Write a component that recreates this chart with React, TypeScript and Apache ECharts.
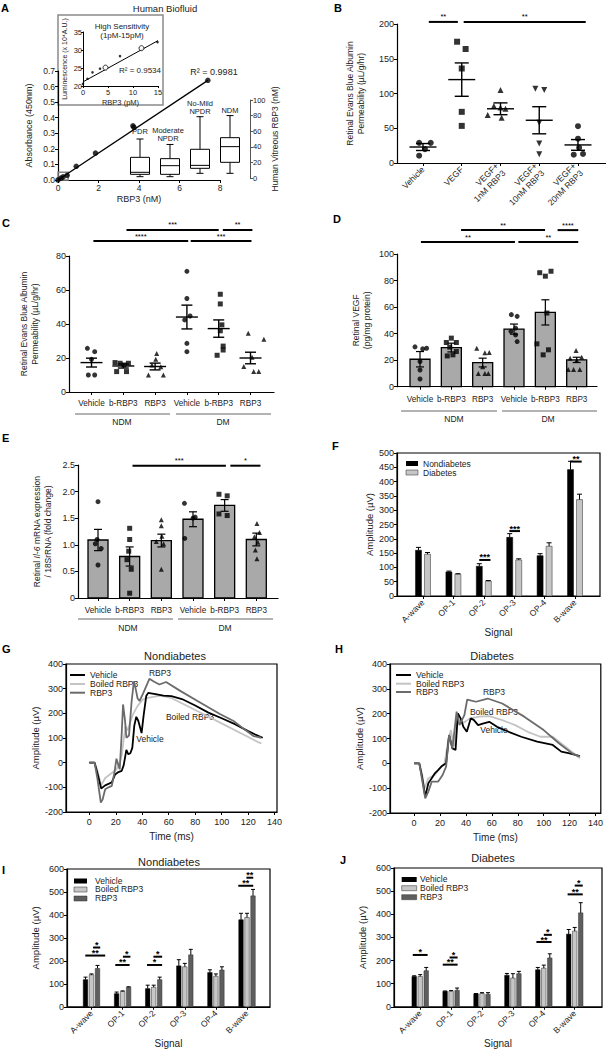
import React, { useEffect, useRef } from "react";
import * as echarts from "echarts";

const FONT = "'Liberation Sans', Arial, Helvetica, sans-serif";

// ---------------- Panel A ----------------
const stdConcNM = [0, 0.15, 0.25, 0.45, 0.9, 1.85, 3.7, 3.75, 7.4];
const stdAbs450 = [0, 0.012, 0.02, 0.03, 0.088, 0.173, 0.348, 0.338, 0.64];
const stdFitX = [0, 7.4];
const stdFitY = [0, 0.64];
const insetRegion = [0, 0, 0.5, 0.05];
const insetConcPM = [0, 0.9, 1.9, 3.4, 4.5, 7.4, 11.7, 14.9];
const insetLum = [20.6, 22.0, 23.8, 24.8, 25.1, 28.3, 30.5, 32.2];
const insetOpen = [0, 0, 0, 0, 1, 0, 1, 0];
const insetFitX = [0.2, 15];
const insetFitY = [21.3, 32.6];
const boxGroups = ["PDR", "Moderate NPDR", "No-Mild NPDR", "NDM"];
const boxStats = [
  [1.7, 4.7, 7.3, 26.5, 50],
  [1.7, 4.7, 15.8, 24.8, 43],
  [6, 12.4, 16.2, 36.8, 78.6],
  [6, 20.1, 40.2, 51.7, 80],
];

// ---------------- Panel B ----------------
const bGroups = ["Vehicle", "VEGF", "VEGF+\n1nM RBP3", "VEGF+\n10nM RBP3", "VEGF+\n20nM RBP3"];
const bPoints = [
  [29, 29, 20, 10.5],
  [174.5, 164, 136, 73.6, 53.4],
  [105, 82, 80, 78, 69, 65],
  [107, 105, 58, 28, 12.5],
  [53, 35, 22, 12, 13],
];
const bJitter = [
  [-0.1, 0.2, 0.05, -0.1],
  [-0.12, 0.1, 0, 0, 0],
  [0, -0.17, 0, 0.13, -0.33, 0.03],
  [-0.1, 0.13, 0, 0, 0],
  [0, 0, 0.03, -0.11, 0.13],
];
const bMean = [23, 120, 78, 61.5, 26];
const bSem = [5, 24, 8.5, 19.5, 7.7];
const bSymbols = ["circle", "rect", "triangle", "triangle", "circle"];
const bRotate = [0, 0, 0, 180, 0];
const bSigX1 = [0.15, 1.05];
const bSigX2 = [0.9, 4.2];
const bSigY = [203, 203];
const bSigLab = ["**", "**"];

// ---------------- Panels C, D, E ----------------
const cdeCats = ["Vehicle", "b-RBP3", "RBP3", "Vehicle", "b-RBP3", "RBP3"];
const cdeSymbols = ["circle", "rect", "triangle", "circle", "rect", "triangle"];

const cPoints = [
  [25.7, 23.7, 19.2, 10, 10],
  [17.3, 16.9, 15.9, 16.9, 12, 12],
  [22.7, 19.2, 15.9, 14.9, 10, 10],
  [71, 55, 44.7, 42.4, 28.6, 23.7],
  [57.5, 51.8, 39.5, 36, 27, 24.7, 21.6],
  [34.5, 31, 20.4, 15, 12, 12],
];
const cJitter = [
  [-0.13, 0.1, 0, -0.1, 0.1],
  [-0.26, -0.1, 0.02, 0.16, -0.21, 0.1],
  [0.05, 0.02, -0.1, 0.18, -0.21, 0.26],
  [0, 0, 0.1, -0.07, 0, 0],
  [0.05, 0.05, 0.1, 0.05, 0.14, 0.14, -0.05],
  [-0.07, 0.42, 0.05, -0.21, 0.1, 0.26],
];
const cMean = [17.3, 15.3, 15, 44.1, 37.3, 20];
const cSem = [2.6, 1.2, 2, 7, 5.1, 3.4];
const cSigX1 = [1.1, 4.13, 0.06, 3.12];
const cSigX2 = [4.0, 5.06, 3.04, 5.03];
const cSigY = [95.3, 95.3, 88.8, 88.8];
const cSigLab = ["***", "**", "****", "***"];

const dPoints = [
  [30, 28.5, 29, 19, 12.6, 5.8],
  [36.6, 33.3, 33.3, 29.8, 26.5, 23.2, 24],
  [29, 25.5, 25.8, 15, 10, 10, 10],
  [54.3, 53, 44.2, 41.7, 39, 34],
  [87, 85.9, 83.3, 55.5, 32.3, 27.8, 24],
  [27.3, 22.2, 21.5, 20, 13, 13, 13],
];
const dJitter = [
  [-0.16, 0.085, 0.21, 0, 0, 0],
  [0, -0.16, 0.16, -0.05, 0.16, -0.13, 0.05],
  [-0.19, 0.07, 0.21, 0, -0.14, 0.07, 0.18],
  [-0.085, 0.1, 0.05, -0.1, 0.05, 0.1],
  [0.18, -0.18, 0, 0.05, -0.27, 0.1, -0.07],
  [-0.02, 0.16, -0.21, 0, -0.27, -0.1, 0.1],
];
const dMean = [20.7, 29.5, 18.2, 43.4, 56, 20.2];
const dSem = [5.8, 3.3, 3.3, 3.8, 9.5, 2];
const dSigX1 = [1.31, 4.39, 0.03, 3.14];
const dSigX2 = [3.99, 5.05, 3.03, 5.05];
const dSigY = [118, 118, 109, 109];
const dSigLab = ["**", "****", "**", "**"];

const ePoints = [
  [1.81, 1.1, 1.02, 0.93, 0.62],
  [1.31, 1.1, 0.88, 0.72, 0.54, 0.09],
  [1.47, 1.36, 1.16, 1.06, 1.02, 0.54],
  [1.78, 1.52, 1.5, 1.12],
  [1.95, 1.92, 1.58, 1.55],
  [1.4, 1.23, 1.15, 1.05, 0.9, 0.74],
];
const eJitter = [
  [0, -0.03, -0.085, 0.1, 0],
  [0, 0, -0.03, -0.085, 0.05, 0],
  [0, 0, 0.02, -0.16, 0.07, 0],
  [-0.27, 0.07, 0, -0.26],
  [-0.18, 0.08, -0.18, 0.08],
  [0.02, 0.1, -0.06, 0.05, -0.03, 0.02],
];
const eMean = [1.09, 0.78, 1.08, 1.48, 1.74, 1.1];
const eSem = [0.2, 0.18, 0.12, 0.14, 0.11, 0.12];
const eSigX1 = [1.09, 4.18];
const eSigX2 = [4.04, 5.13];
const eSigY = [2.487, 2.487];
const eSigLab = ["***", "*"];

// ---------------- Panel F ----------------
const ergCats = ["A-wave", "OP-1", "OP-2", "OP-3", "OP-4", "B-wave"];
const fNondiab = [160, 84, 104, 205, 141, 442];
const fNondiabErr = [10, 3, 9, 13, 7, 29];
const fDiab = [146, 76, 52, 126, 174, 337];
const fDiabErr = [6, 2, 2, 4, 12, 19];
const fSigX1 = [1.85, 2.84, 4.84];
const fSigX2 = [2.22, 3.19, 5.22];
const fSigY = [126, 227, 470];
const fSigLab = ["***", "***", "**"];

// ---------------- Panels G, H (waveforms) ----------------
const gVehicle = [[0,0],[4,0],[6,-40],[9,-105],[12,-92],[17,-80],[19.5,-48],[22,-38],[24.5,-33],[26,-10],[28,52],[29.5,34],[31,38],[32.5,60],[34,150],[35.5,186],[37,170],[39.5,120],[41,190],[43,270],[44.5,283],[50,278],[56,272],[62,270],[70,258],[80,232],[90,203],[100,180],[110,156],[120,128],[125,115],[131,101]];
const gBoiled = [[0,0],[4,0],[6,-30],[9,-92],[12,-62],[17,-42],[20.5,-28],[23,0],[24.5,30],[26,95],[27.5,148],[29,130],[31,165],[33,196],[36.5,230],[40.5,256],[44,263],[54,272],[61.5,263],[74,230],[89,189],[104,148],[116,115],[128,82],[130,78]];
const gRBP3 = [[0,0],[4,0],[6,-60],[8.7,-162],[10,-150],[12,-108],[14.5,-100],[17,-94],[19,-40],[20.5,16],[22,-10],[23,-27],[24.5,120],[25.5,236],[27,170],[28,101],[30,110],[32,250],[33.7,330],[35,300],[36.5,260],[38,250],[41,285],[45.4,340],[49,328],[53,317],[58,327],[69,290],[84,243],[99,196],[109,169],[119,128],[124,108],[130,101]];
const hVehicle = [[0,0],[4,0],[6,-50],[8.6,-134],[11,-80],[13.6,-60],[16,-40],[18.5,-27],[21,-13],[24.7,0],[27,114],[29.6,60],[32,54],[33.8,201],[36,180],[38,147],[40.7,127],[43.7,181],[46,175],[49.4,154],[53,160],[58,167],[64,147],[73,127],[82.7,107],[95,87],[107,74],[113.6,47],[120,40],[128,29]];
const hBoiled = [[0,0],[4,0],[6,-40],[8,-100],[11,-60],[16,-47],[21,-13],[23.5,0],[26,80],[28.4,134],[30,90],[31,70],[33,194],[35,175],[37,161],[40,170],[43,181],[50.6,188],[58,190],[68,174],[78,154],[87.6,127],[97.5,107],[107,107],[113.6,80],[120,54],[128,20]];
const hRBP3 = [[0,0],[4,0],[6,-60],[8.6,-141],[11,-114],[13.6,-74],[18.5,-74],[22,-47],[24.7,-13],[27,114],[29.6,60],[32.8,208],[35,154],[38.8,194],[41,257],[47.7,248],[56.8,261],[68,241],[85,188],[100,134],[112,80],[122,40],[128,27]];
const timeTicks = [0, 20, 40, 60, 80, 100, 120, 140];

// ---------------- Panels I, J ----------------
const iVehicle = [118, 57, 79, 178, 149, 379];
const iVehicleErr = [11, 7, 15, 27, 12, 28];
const iBoiled = [139, 67, 85, 174, 133, 389];
const iBoiledErr = [4, 2, 9, 15, 10, 18];
const iRBP3 = [167, 85, 118, 226, 160, 483];
const iRBP3Err = [13, 2, 11, 24, 14, 28];
const iSigX1 = [-0.2, 0.05, 0.765, 1.01, 1.785, 1.99, 4.72, 4.98];
const iSigX2 = [0.44, 0.28, 1.225, 1.25, 2.27, 2.27, 5.2, 5.2];
const iSigY = [223, 258, 182, 218, 182, 218, 527, 562];
const iSigLab = ["**", "*", "**", "*", "*", "*", "**", "**"];

const jVehicle = [131, 67, 56, 136, 160, 314];
const jVehicleErr = [3, 1, 1, 8, 10, 20];
const jBoiled = [131, 67, 57, 124, 167, 327];
const jBoiledErr = [8, 3, 4, 19, 13, 16];
const jRBP3 = [156, 71, 54, 143, 211, 406];
const jRBP3Err = [14, 10, 7, 10, 18, 44];
const jSigX1 = [-0.24, 0.73, 0.95, 3.76, 4.0, 4.77, 5.0];
const jSigX2 = [0.24, 1.21, 1.21, 4.25, 4.26, 5.26, 5.26];
const jSigY = [224, 182, 213, 280, 311, 486, 524];
const jSigLab = ["*", "**", "*", "**", "*", "**", "*"];

// ---------------- helpers ----------------
const idx = (n: number) => Array.from({ length: n }, (_, i) => i);

function vAxis(gi: number, min: number, max: number, extra: any = {}) {
  const { label = {}, tick = {}, line = {}, nameStyle = {}, ...rest } = extra;
  return {
    gridIndex: gi,
    type: "value",
    min,
    max,
    axisLine: { show: true, onZero: false, lineStyle: { color: "#000", width: 1.2 }, ...line },
    axisTick: { show: true, length: 3, lineStyle: { color: "#000", width: 1 }, ...tick },
    axisLabel: { fontSize: 9, fontFamily: FONT, color: "#222", margin: 3, ...label },
    splitLine: { show: false },
    nameLocation: "middle",
    nameTextStyle: { fontSize: 8.5, fontFamily: FONT, color: "#222", lineHeight: 11, ...nameStyle },
    ...rest,
  };
}

function catXAxis(gi: number, min: number, max: number, names: string[], extra: any = {}) {
  const n = names.length;
  const { label = {}, ...rest } = extra;
  return vAxis(gi, min, max, {
    tick: { customValues: idx(n) },
    label: {
      customValues: idx(n),
      formatter: (v: number) => names[Math.round(v)],
      ...label,
    },
    ...rest,
  });
}

function dots(gi: number, center: number, vals: number[], jit: number[], symbol: string, size: number, rotate = 0) {
  return {
    type: "scatter",
    xAxisIndex: gi,
    yAxisIndex: gi,
    symbol,
    symbolSize: size,
    symbolRotate: rotate,
    z: 5,
    silent: true,
    itemStyle: { color: "#000" },
    data: vals.map((v, i) => [center + jit[i], v]),
  };
}

function meanSem(gi: number, means: number[], sems: number[], meanW: number, capW: number) {
  return {
    type: "custom",
    xAxisIndex: gi,
    yAxisIndex: gi,
    z: 6,
    silent: true,
    data: means.map((m, i) => [i, m, sems[i]]),
    renderItem: (_p: any, api: any) => {
      const x = api.value(0), m = api.value(1), s = api.value(2);
      const c = api.coord([x, m]), t = api.coord([x, m + s]), b = api.coord([x, m - s]);
      const st = { stroke: "#000", lineWidth: 1.4 };
      const L = (x1: number, y1: number, x2: number, y2: number) => ({ type: "line", shape: { x1, y1, x2, y2 }, style: st });
      return {
        type: "group",
        children: [
          L(c[0] - meanW / 2, c[1], c[0] + meanW / 2, c[1]),
          L(t[0], t[1], b[0], b[1]),
          L(t[0] - capW / 2, t[1], t[0] + capW / 2, t[1]),
          L(b[0] - capW / 2, b[1], b[0] + capW / 2, b[1]),
        ],
      };
    },
  };
}

function bars(gi: number, vals: number[], errs: number[], o: any) {
  const { offset = 0, width, fill, stroke = "#000", strokeW = 1, both = false, capW = 5, errW = 1 } = o;
  return {
    type: "custom",
    xAxisIndex: gi,
    yAxisIndex: gi,
    z: o.z ?? 3,
    silent: true,
    data: vals.map((v, i) => [i, v, errs[i]]),
    renderItem: (_p: any, api: any) => {
      const x = api.value(0), v = api.value(1), e = api.value(2);
      const b = api.coord([x, 0]), t = api.coord([x, v]), et = api.coord([x, v + e]), eb = api.coord([x, v - e]);
      const cx = b[0] + offset;
      const es = { stroke: "#000", lineWidth: errW };
      const children: any[] = [
        {
          type: "rect",
          shape: { x: cx - width / 2, y: t[1], width, height: b[1] - t[1] },
          style: { fill, stroke, lineWidth: strokeW },
        },
        { type: "line", shape: { x1: cx, y1: both ? eb[1] : t[1], x2: cx, y2: et[1] }, style: es },
        { type: "line", shape: { x1: cx - capW / 2, y1: et[1], x2: cx + capW / 2, y2: et[1] }, style: es },
      ];
      if (both) {
        children.push({ type: "line", shape: { x1: cx - capW / 2, y1: eb[1], x2: cx + capW / 2, y2: eb[1] }, style: es });
      }
      return { type: "group", children };
    },
  };
}

function sig(gi: number, x1s: number[], x2s: number[], ys: number[], labels: string[], o: any) {
  const { lineW = 2, fontSize = 7, gap = 1, bold = false } = o;
  return {
    type: "custom",
    xAxisIndex: gi,
    yAxisIndex: gi,
    z: 7,
    clip: false,
    silent: true,
    data: x1s.map((x1, i) => [x1, ys[i], x2s[i], i]),
    renderItem: (_p: any, api: any) => {
      const y = api.value(1);
      const a = api.coord([api.value(0), y]);
      const b = api.coord([api.value(2), y]);
      const k = api.value(3);
      return {
        type: "group",
        children: [
          { type: "line", shape: { x1: a[0], y1: a[1], x2: b[0], y2: a[1] }, style: { stroke: "#000", lineWidth: lineW } },
          {
            type: "text",
            x: (a[0] + b[0]) / 2,
            y: a[1] - gap,
            style: {
              text: labels[k],
              fontSize,
              fontFamily: FONT,
              fontWeight: bold ? "bold" : "normal",
              fill: "#000",
              align: "center",
              verticalAlign: "bottom",
            },
          },
        ],
      };
    },
  };
}

function boxes(gi: number, stats: number[][], boxW: number, capW: number) {
  return {
    type: "custom",
    xAxisIndex: gi,
    yAxisIndex: gi,
    z: 4,
    silent: true,
    data: stats.map((s, i) => [i, ...s]),
    renderItem: (_p: any, api: any) => {
      const i = api.value(0);
      const p = [1, 2, 3, 4, 5].map((k) => api.coord([i, api.value(k)]));
      const cx = p[0][0];
      const st = { stroke: "#000", lineWidth: 1 };
      const L = (x1: number, y1: number, x2: number, y2: number) => ({ type: "line", shape: { x1, y1, x2, y2 }, style: st });
      return {
        type: "group",
        children: [
          L(cx, p[0][1], cx, p[1][1]),
          L(cx, p[3][1], cx, p[4][1]),
          L(cx - capW / 2, p[0][1], cx + capW / 2, p[0][1]),
          L(cx - capW / 2, p[4][1], cx + capW / 2, p[4][1]),
          {
            type: "rect",
            shape: { x: cx - boxW / 2, y: p[3][1], width: boxW, height: p[1][1] - p[3][1] },
            style: { fill: "#fff", stroke: "#000", lineWidth: 1 },
          },
          L(cx - boxW / 2, p[2][1], cx + boxW / 2, p[2][1]),
        ],
      };
    },
  };
}

function wave(gi: number, data: number[][], color: string, z: number) {
  return {
    type: "line",
    xAxisIndex: gi,
    yAxisIndex: gi,
    data,
    showSymbol: false,
    symbol: "none",
    silent: true,
    z,
    lineStyle: { color, width: 1.8 },
  };
}

const T = (x: number, y: number, text: string, o: any = {}) => ({
  type: "text",
  x,
  y,
  silent: true,
  style: { text, fill: "#222", fontFamily: FONT, fontSize: 8.5, align: "center", verticalAlign: "middle", ...o },
});
const Ln = (x1: number, y1: number, x2: number, y2: number, stroke = "#000", lineWidth = 1) => ({
  type: "line",
  silent: true,
  shape: { x1, y1, x2, y2 },
  style: { stroke, lineWidth },
});
const Rc = (x: number, y: number, w: number, h: number, fill: string, stroke = "none", lw = 0) => ({
  type: "rect",
  silent: true,
  shape: { x, y, width: w, height: h },
  style: { fill, stroke, lineWidth: lw },
});
const Letter = (x: number, y: number, s: string) =>
  T(x, y, s, { fontWeight: "bold", fontSize: 11, fill: "#000", align: "left", verticalAlign: "top" });

const LIGHT = "#c6c6c6";
const DARK = "#5e5e5e";
const BARGRAY = "#a9a9a9";
const WLIGHT = "#c4c4c4";
const WDARK = "#6b6b6b";

function buildOption() {
  const frame = { show: true, borderColor: "#000", borderWidth: 1.2 };
  const grids = [
    { left: 58, top: 71, width: 162, height: 109 }, // 0 A main
    { left: 83, top: 32, width: 75, height: 54 }, // 1 A inset
    { left: 125, top: 100, width: 120, height: 78 }, // 2 A boxes
    { left: 397, top: 24, width: 209, height: 139 }, // 3 B
    { left: 69, top: 256, width: 205, height: 136 }, // 4 C
    { left: 397, top: 254, width: 200, height: 132.7 }, // 5 D
    { left: 78, top: 465, width: 200, height: 133 }, // 6 E
    { left: 397, top: 453, width: 203, height: 143, ...frame }, // 7 F
    { left: 66, top: 664, width: 211, height: 148, ...frame }, // 8 G
    { left: 390, top: 664, width: 212, height: 149, ...frame }, // 9 H
    { left: 67, top: 869, width: 203, height: 144, ...frame }, // 10 I
    { left: 394, top: 868, width: 208, height: 143, ...frame }, // 11 J
  ];

  const catLbl = { fontSize: 8.2 };
  const xAxis: any[] = [
    vAxis(0, 0, 8, { interval: 2, label: { fontSize: 8.5 }, name: "RBP3 (nM)", nameGap: 13, nameStyle: { fontSize: 9 } }),
    vAxis(1, 0, 15, { interval: 5, name: "RBP3 (pM)", nameGap: 9, label: { fontSize: 7.5, margin: 2 }, tick: { length: 2 }, line: { lineStyle: { color: "#000", width: 1 } }, nameStyle: { fontSize: 7.5 } }),
    { gridIndex: 2, type: "category", data: boxGroups, show: false },
    catXAxis(3, -0.671, 4.723, bGroups, { label: { rotate: 45, margin: 5, lineHeight: 10, fontSize: 8.5 } }),
    catXAxis(4, -0.708, 5.739, cdeCats, { label: { margin: 7, ...catLbl } }),
    catXAxis(5, -0.734, 5.648, cdeCats, { label: { margin: 9, ...catLbl } }),
    catXAxis(6, -0.632, 5.685, cdeCats, { label: { margin: 8, ...catLbl } }),
    catXAxis(7, -0.855, 5.822, ergCats, { label: { rotate: 45, margin: 5, fontSize: 8.5 }, name: "Signal", nameGap: 25, nameStyle: { fontSize: 10 } }),
    vAxis(8, -17.6, 141.8, { tick: { customValues: timeTicks }, label: { customValues: timeTicks, margin: 5 }, name: "Time (ms)", nameGap: 19, nameStyle: { fontSize: 10 } }),
    vAxis(9, -18.6, 144.1, { tick: { customValues: timeTicks }, label: { customValues: timeTicks, margin: 5 }, name: "Time (ms)", nameGap: 19, nameStyle: { fontSize: 10 } }),
    catXAxis(10, -0.788, 5.739, ergCats, { label: { rotate: 45, margin: 5, fontSize: 8.5 }, name: "Signal", nameGap: 27, nameStyle: { fontSize: 10 } }),
    catXAxis(11, -0.848, 5.883, ergCats, { label: { rotate: 45, margin: 5, fontSize: 8.5 }, name: "Signal", nameGap: 28, nameStyle: { fontSize: 10 } }),
  ];

  const yAxis: any[] = [
    vAxis(0, 0, 0.7, { interval: 0.1, label: { fontSize: 8.5, formatter: (v: number) => v.toFixed(1) }, name: "Absorbance (450nm)", nameGap: 24, nameStyle: { fontSize: 9 } }),
    vAxis(1, 20, 35, { interval: 5, label: { fontSize: 7.5, margin: 1 }, tick: { length: 2 }, line: { lineStyle: { color: "#000", width: 1 } }, name: "Luminescence (x 10⁴A.U.)", nameGap: 10, nameStyle: { fontSize: 7 } }),
    vAxis(2, 0, 100, { interval: 20, position: "right", offset: 5, label: { fontSize: 7.5 }, line: { lineStyle: { color: "#555", width: 1 } }, tick: { lineStyle: { color: "#555" } }, name: "Human Vitreous RBP3 (nM)", nameGap: 19, nameRotate: 90, nameStyle: { fontSize: 8.5 } }),
    vAxis(3, 0, 200, { interval: 50, name: "Retinal Evans Blue Albumin\nPermeability (µL/g/hr)", nameGap: 31 }),
    vAxis(4, 0, 80, { interval: 20, name: "Retinal Evans Blue Albumin\nPermeability (µL/g/hr)", nameGap: 29 }),
    vAxis(5, 0, 100, { interval: 20, name: "Retinal VEGF\n(pg/mg protein)", nameGap: 25 }),
    vAxis(6, 0, 2.5, {
      interval: 0.5,
      label: { formatter: (v: number) => (v === 0 ? "0" : v.toFixed(1)) },
      name: "Retinal {i|Il-6} mRNA expression\n/ 18SrRNA (fold change)",
      nameGap: 25,
      nameStyle: { rich: { i: { fontStyle: "italic", fontSize: 8.5, fontFamily: FONT, color: "#222" } } },
    }),
    vAxis(7, 0, 500, { interval: 50, name: "Amplitude (µV)", nameGap: 22, nameStyle: { fontSize: 9.5 } }),
    vAxis(8, -200, 400, { interval: 100, name: "Amplitude (µV)", nameGap: 24, nameStyle: { fontSize: 9.5 } }),
    vAxis(9, -200, 400, { interval: 100, name: "Amplitude (µV)", nameGap: 25, nameStyle: { fontSize: 9.5 } }),
    vAxis(10, 0, 600, { interval: 100, name: "Amplitude (µV)", nameGap: 26, nameStyle: { fontSize: 9.5 } }),
    vAxis(11, 0, 600, { interval: 100, name: "Amplitude (µV)", nameGap: 26, nameStyle: { fontSize: 9.5 } }),
  ];

  const series: any[] = [];

  // ---- A
  series.push({
    type: "line",
    xAxisIndex: 0,
    yAxisIndex: 0,
    data: stdFitX.map((x, i) => [x, stdFitY[i]]),
    showSymbol: false,
    symbol: "none",
    lineStyle: { color: "#000", width: 1.3 },
    silent: true,
    z: 3,
    markArea: {
      silent: true,
      itemStyle: { color: "rgba(0,0,0,0)", borderColor: "#888", borderWidth: 1.5 },
      data: [[{ coord: [insetRegion[0], insetRegion[1]] }, { coord: [insetRegion[2], insetRegion[3]] }]],
    },
  });
  series.push({
    type: "scatter",
    xAxisIndex: 0,
    yAxisIndex: 0,
    symbolSize: 5.5,
    itemStyle: { color: "#000" },
    silent: true,
    z: 4,
    data: stdConcNM.map((x, i) => [x, stdAbs450[i]]),
  });
  series.push({
    type: "line",
    xAxisIndex: 1,
    yAxisIndex: 1,
    data: insetFitX.map((x, i) => [x, insetFitY[i]]),
    showSymbol: false,
    symbol: "none",
    lineStyle: { color: "#000", width: 1 },
    silent: true,
    z: 3,
  });
  series.push({
    type: "scatter",
    xAxisIndex: 1,
    yAxisIndex: 1,
    silent: true,
    z: 4,
    data: insetConcPM.map((x, i) => ({
      value: [x, insetLum[i]],
      symbolSize: insetOpen[i] ? 5 : 2.6,
      itemStyle: insetOpen[i] ? { color: "#fff", borderColor: "#000", borderWidth: 1 } : { color: "#000" },
    })),
  });
  series.push(boxes(2, boxStats, 19, 7));

  // ---- B
  bPoints.forEach((vals, g) => series.push(dots(3, g, vals, bJitter[g], bSymbols[g], 6, bRotate[g])));
  series.push(meanSem(3, bMean, bSem, 27, 14));
  series.push(sig(3, bSigX1, bSigX2, bSigY, bSigLab, { lineW: 2, fontSize: 7.5, gap: 1 }));

  // ---- C
  cPoints.forEach((vals, g) => series.push(dots(4, g, vals, cJitter[g], cdeSymbols[g], 5)));
  series.push(meanSem(4, cMean, cSem, 22, 11));
  series.push(sig(4, cSigX1, cSigX2, cSigY, cSigLab, { lineW: 2, fontSize: 7.5, gap: 1 }));

  // ---- D
  series.push(bars(5, dMean, dSem, { width: 20, fill: BARGRAY, stroke: "#000", strokeW: 1.3, both: true, capW: 8, errW: 1.2, z: 2 }));
  dPoints.forEach((vals, g) => series.push(dots(5, g, vals, dJitter[g], cdeSymbols[g], 5)));
  series.push(sig(5, dSigX1, dSigX2, dSigY, dSigLab, { lineW: 2, fontSize: 7.5, gap: 1 }));

  // ---- E
  series.push(bars(6, eMean, eSem, { width: 20, fill: BARGRAY, stroke: "#000", strokeW: 1.3, both: true, capW: 8, errW: 1.2, z: 2 }));
  ePoints.forEach((vals, g) => series.push(dots(6, g, vals, eJitter[g], cdeSymbols[g], 5)));
  series.push(sig(6, eSigX1, eSigX2, eSigY, eSigLab, { lineW: 2, fontSize: 7.5, gap: 1 }));

  // ---- F
  series.push(bars(7, fNondiab, fNondiabErr, { offset: -4.5, width: 6, fill: "#000", stroke: "#000", strokeW: 0.5, capW: 5 }));
  series.push(bars(7, fDiab, fDiabErr, { offset: 4.5, width: 6, fill: LIGHT, stroke: "#444", strokeW: 0.6, capW: 5 }));
  series.push(sig(7, fSigX1, fSigX2, fSigY, fSigLab, { lineW: 2, fontSize: 9, gap: -2, bold: true }));

  // ---- G / H
  series.push(wave(8, gBoiled, WLIGHT, 2));
  series.push(wave(8, gVehicle, "#000", 3));
  series.push(wave(8, gRBP3, WDARK, 4));
  series.push(wave(9, hBoiled, WLIGHT, 2));
  series.push(wave(9, hVehicle, "#000", 3));
  series.push(wave(9, hRBP3, WDARK, 4));

  // ---- I
  series.push(bars(10, iVehicle, iVehicleErr, { offset: -6, width: 4.5, fill: "#000", stroke: "#000", strokeW: 0.5, capW: 4 }));
  series.push(bars(10, iBoiled, iBoiledErr, { offset: 0, width: 4.5, fill: LIGHT, stroke: "#444", strokeW: 0.6, capW: 4 }));
  series.push(bars(10, iRBP3, iRBP3Err, { offset: 6, width: 4.5, fill: DARK, stroke: "#333", strokeW: 0.5, capW: 4 }));
  series.push(sig(10, iSigX1, iSigX2, iSigY, iSigLab, { lineW: 2, fontSize: 9, gap: -2, bold: true }));

  // ---- J
  series.push(bars(11, jVehicle, jVehicleErr, { offset: -6, width: 4.5, fill: "#000", stroke: "#000", strokeW: 0.5, capW: 4 }));
  series.push(bars(11, jBoiled, jBoiledErr, { offset: 0, width: 4.5, fill: LIGHT, stroke: "#444", strokeW: 0.6, capW: 4 }));
  series.push(bars(11, jRBP3, jRBP3Err, { offset: 6, width: 4.5, fill: DARK, stroke: "#333", strokeW: 0.5, capW: 4 }));
  series.push(sig(11, jSigX1, jSigX2, jSigY, jSigLab, { lineW: 2, fontSize: 9, gap: -2, bold: true }));

  const GL = "#9a9a9a";
  const graphics: any[] = [
    // letters
    Letter(1, 2, "A"),
    Letter(334, 2, "B"),
    Letter(2, 217, "C"),
    Letter(333, 213, "D"),
    Letter(2, 432, "E"),
    Letter(332, 440, "F"),
    Letter(2, 643, "G"),
    Letter(335, 643, "H"),
    Letter(2, 864, "I"),
    Letter(340, 854, "J"),
    // A
    T(165, 8, "Human Biofluid", { fontSize: 9.5 }),
    Rc(58, 15, 105, 90, "none", "#8a8a8a", 1.5),
    T(122, 26, "High Sensitivity", { fontSize: 8 }),
    T(122, 35, "(1pM-15pM)", { fontSize: 8 }),
    T(140, 70, "R² = 0.9534", { fontSize: 8 }),
    T(214, 72, "R² = 0.9981", { fontSize: 9 }),
    T(140, 131, "PDR", { fontSize: 7.5 }),
    T(168, 130, "Moderate", { fontSize: 7.5 }),
    T(168, 138.5, "NPDR", { fontSize: 7.5 }),
    T(200, 103, "No-Mild", { fontSize: 7.5 }),
    T(200, 111.5, "NPDR", { fontSize: 7.5 }),
    T(230, 110, "NDM", { fontSize: 7.5 }),
    // C groups
    Ln(75, 414, 170, 414, GL, 1.5),
    Ln(176, 414, 271, 414, GL, 1.5),
    T(122, 422, "NDM"),
    T(223, 422, "DM"),
    // D groups
    Ln(401, 411, 497, 411, GL, 1.5),
    Ln(502, 411, 597, 411, GL, 1.5),
    T(454, 419, "NDM"),
    T(548, 419, "DM"),
    // E groups
    Ln(78, 619, 173, 619, GL, 1.5),
    Ln(178, 619, 273, 619, GL, 1.5),
    T(128, 628, "NDM"),
    T(225, 628, "DM"),
    // F legend
    Rc(406, 461, 12, 5, "#000"),
    T(423, 463.5, "Nondiabetes", { align: "left" }),
    Rc(406, 470, 12, 5, LIGHT, "#444", 0.6),
    T(423, 472.5, "Diabetes", { align: "left" }),
    // G
    T(175, 656, "Nondiabetes", { fontSize: 11 }),
    Ln(70, 675, 85, 675, "#000", 2),
    T(90, 675, "Vehicle", { align: "left" }),
    Ln(70, 684, 85, 684, WLIGHT, 2),
    T(90, 684, "Boiled RBP3", { align: "left" }),
    Ln(70, 692.7, 85, 692.7, WDARK, 2),
    T(90, 692.7, "RBP3", { align: "left" }),
    T(160, 673, "RBP3"),
    T(190, 717, "Boiled RBP3"),
    T(150, 739, "Vehicle"),
    // H
    T(492, 656, "Diabetes", { fontSize: 11 }),
    Ln(396, 675, 411, 675, "#000", 2),
    T(416, 675, "Vehicle", { align: "left" }),
    Ln(396, 683.7, 411, 683.7, WLIGHT, 2),
    T(416, 683.7, "Boiled RBP3", { align: "left" }),
    Ln(396, 692, 411, 692, WDARK, 2),
    T(416, 692, "RBP3", { align: "left" }),
    T(494, 692, "RBP3"),
    T(494, 712, "Boiled RBP3"),
    T(494, 730, "Vehicle"),
    // I
    T(169, 862, "Nondiabetes", { fontSize: 11 }),
    Rc(74, 878.5, 13, 5, "#000"),
    T(95, 880.7, "Vehicle", { align: "left" }),
    Rc(74, 887, 13, 5, LIGHT, "#444", 0.6),
    T(95, 889.3, "Boiled RBP3", { align: "left" }),
    Rc(74, 896, 13, 5, DARK, "#333", 0.5),
    T(95, 898.3, "RBP3", { align: "left" }),
    // J
    T(493, 858, "Diabetes", { fontSize: 11 }),
    Rc(401.7, 877, 15, 5, "#000"),
    T(420, 879.3, "Vehicle", { align: "left" }),
    Rc(401.7, 885.7, 15, 5, LIGHT, "#444", 0.6),
    T(420, 888, "Boiled RBP3", { align: "left" }),
    Rc(401.7, 894.7, 15, 5, DARK, "#333", 0.5),
    T(420, 897, "RBP3", { align: "left" }),
  ];

  return {
    animation: false,
    backgroundColor: "#fff",
    textStyle: { fontFamily: FONT },
    grid: grids,
    xAxis,
    yAxis,
    series,
    graphic: { elements: graphics },
  };
}

export default function App() {
  const ref = useRef<HTMLDivElement>(null);
  useEffect(() => {
    if (!ref.current) return;
    const chart = echarts.init(ref.current, undefined, { renderer: "svg" });
    chart.setOption(buildOption() as any);
    return () => chart.dispose();
  }, []);
  return (
    <div
      ref={ref}
      style={{ position: "fixed", left: 0, top: 0, width: 606, height: 1050, background: "#fff" }}
    />
  );
}
